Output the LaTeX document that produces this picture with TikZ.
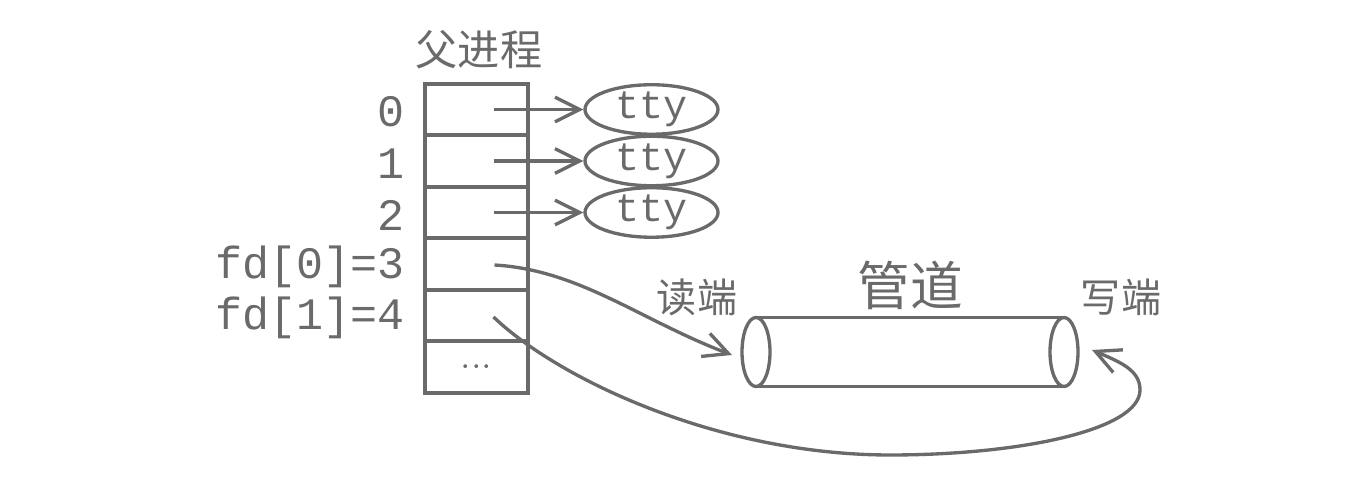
\documentclass[tikz,border=0pt]{standalone}
\usepackage{fontspec}
\setmonofont{Liberation Mono}
\newfontfamily\cjk{Noto Sans CJK SC}
\usetikzlibrary{arrows.meta,calc,positioning,shapes.geometric}
\definecolor{ink}{HTML}{6A6A6A}

\begin{document}
\begin{tikzpicture}[>={Straight Barb[length=7pt,width=7pt]},x=0.1mm,y=-0.1mm,
  every node/.style={text=ink},
  cell/.style={draw=ink,line width=1.05pt,minimum width=10.3mm,minimum height=5.15mm,inner sep=0pt},
  fdlabel/.style={font=\ttfamily\fontsize{12.8}{13}\selectfont,inner sep=0pt},
  tty/.style={ellipse,draw=ink,line width=0.95pt,minimum width=13.3mm,minimum height=4.9mm,inner sep=0pt,font=\ttfamily\fontsize{11.4}{12}\selectfont},
  link/.style={->,draw=ink,line width=0.95pt}]
  \useasboundingbox (0,0) rectangle (1370,480);

  % descriptor table of the parent
  \foreach \i in {0,...,5}
    \node[cell] (c\i) at (476.5,109.5+51.5*\i) {};
  \node[font=\fontsize{11}{11}\selectfont] (dots) at (c5) {...};
  \node[font=\cjk\fontsize{12}{12}\selectfont] (parent) at (479,50) {父进程};
  \foreach \i/\t in {0/0,1/1,2/2,3/fd[0]=3,4/fd[1]=4}
    \node[fdlabel,left=1.8mm of c\i,yshift=-0.25mm] (l\i) {\t};

  % terminals
  \foreach \i in {0,1,2} {
    \node[tty] (tty\i) at (651.5,109.5+51.5*\i) {tty};
    \draw[link] ($(c\i.center)+(17,0)$) -- (tty\i.west);
  }

  % pipe
  \coordinate (pl) at (756,352);
  \coordinate (pr) at (1064,352);
  \draw[ink,line width=0.95pt] (pl) ellipse [x radius=1.4mm,y radius=3.45mm]
    (pr) ellipse [x radius=1.4mm,y radius=3.45mm];
  \draw[ink,line width=0.95pt] ($(pl)+(0,-34.5)$) -- ($(pr)+(0,-34.5)$)
    ($(pl)+(0,34.5)$) -- ($(pr)+(0,34.5)$);
  \node[font=\cjk\fontsize{15}{15}\selectfont] (pipe) at (910,285) {管道};
  \node[font=\cjk\fontsize{11.4}{12}\selectfont] (rdend) at (697,297) {读端};
  \node[font=\cjk\fontsize{11.4}{12}\selectfont] (wrend) at (1121,297) {写端};

  \coordinate (rdtip) at (732,355);
  \coordinate (wrtip) at (1092,350);
  \draw[link] ($(c3.center)+(18,1)$) .. controls +(85,5) and +(-92,-35) .. (rdtip);
  \draw[link] ($(c4.center)+(17,1.5)$) .. controls +(66,63) and +(-170,0) .. (890,455)
    .. controls +(130,0) and +(0,40) .. (1140,390)
    .. controls +(0,-20) and +(28,12) .. (wrtip);
\end{tikzpicture}
\end{document}
